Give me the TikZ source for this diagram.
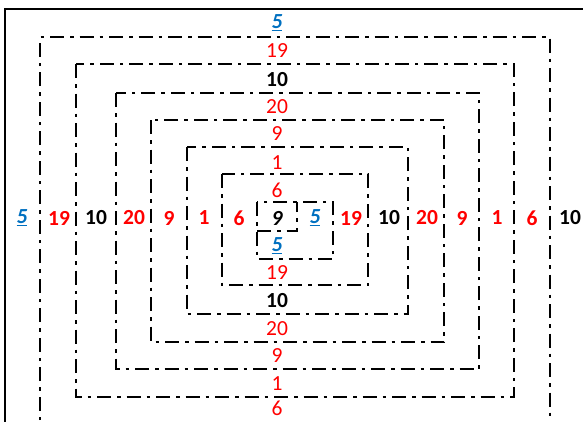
\documentclass[tikz,border=0pt]{standalone}
\usepackage{fontspec}
\setmainfont{Carlito}
\usepackage{xcolor}
\definecolor{numred}{HTML}{FF0000}
\definecolor{numblue}{HTML}{0070C0}
\newcommand{\lsz}{\fontsize{21.5}{22}\selectfont}
\begin{document}
\begin{tikzpicture}[x=1pt,y=-1pt,
  frame/.style={line width=2.4pt},
  dd/.style={line width=2.4pt, dash pattern=on 14pt off 6pt on 3.5pt off 6pt},
  lab/.style={inner sep=0pt, font=\lsz},
  rn/.style={lab, text=numred},
  rb/.style={lab, text=numred, font=\lsz\bfseries},
  bk/.style={lab, text=black, font=\lsz\bfseries},
  bl/.style={lab, text=numblue, font=\lsz\bfseries\itshape},
]
\useasboundingbox (0,0) rectangle (583,421);
\begin{scope}
\clip (0,0) rectangle (583,421);
% outer solid frame
\draw[frame] (5,440) -- (5,9) -- (600,9);
% dash-dot rectangles
\draw[dd] (40,440) -- (40,37) -- (550,37) -- (550,440);
\draw[dd] (76,64) rectangle (514,397);
\draw[dd] (116,93) rectangle (479,369);
\draw[dd] (151,120) rectangle (444,342);
\draw[dd] (187,147) rectangle (408,314);
\draw[dd] (222,174) rectangle (368,285);
\draw[dd] (257,202) rectangle (333,259);
\draw[dd] (257,231) -- (297,231) -- (297,202);
\end{scope}
% top column
\node[bl] (t5) at (277,23) {\underline{5}};
\node[rn] (t19) at (277,51) {19};
\node[bk] (t10) at (277,80) {10};
\node[rn] (t20) at (277,107) {20};
\node[rn] (t9) at (277,134) {9};
\node[rn] (t1) at (277,163) {1};
\node[rn] (t6) at (277,190) {6};
% centre
\node[lab, font=\lsz\bfseries\itshape] (c9) at (277,218) {9};
\node[bl] (c5a) at (315,218) {\underline{5}};
\node[bl] (c5b) at (277,246) {\underline{5}};
% bottom column
\node[rn] (b19) at (277,273) {19};
\node[bk] (b10) at (277,301) {10};
\node[rn] (b20) at (277,329) {20};
\node[rn] (b9) at (277,356) {9};
\node[rn] (b1) at (277,384) {1};
\node[rn] (b6) at (277,408) {6};
% middle row
\node[bl] (l5) at (22,218) {\underline{5}};
\node[rb] (l19) at (59,218) {19};
\node[bk] (l10) at (96,218) {10};
\node[rb] (l20) at (134,218) {20};
\node[rb] (l9) at (169,218) {9};
\node[rb] (l1) at (204,218) {1};
\node[rb] (l6) at (239,218) {6};
\node[rb] (r19) at (351,218) {19};
\node[bk] (r10) at (389,218) {10};
\node[rb] (r20) at (427,218) {20};
\node[rb] (r9) at (462,218) {9};
\node[rb] (r1) at (497,218) {1};
\node[rb] (r6) at (532,218) {6};
\node[bk] (r10b) at (570,218) {10};
\end{tikzpicture}
\end{document}
